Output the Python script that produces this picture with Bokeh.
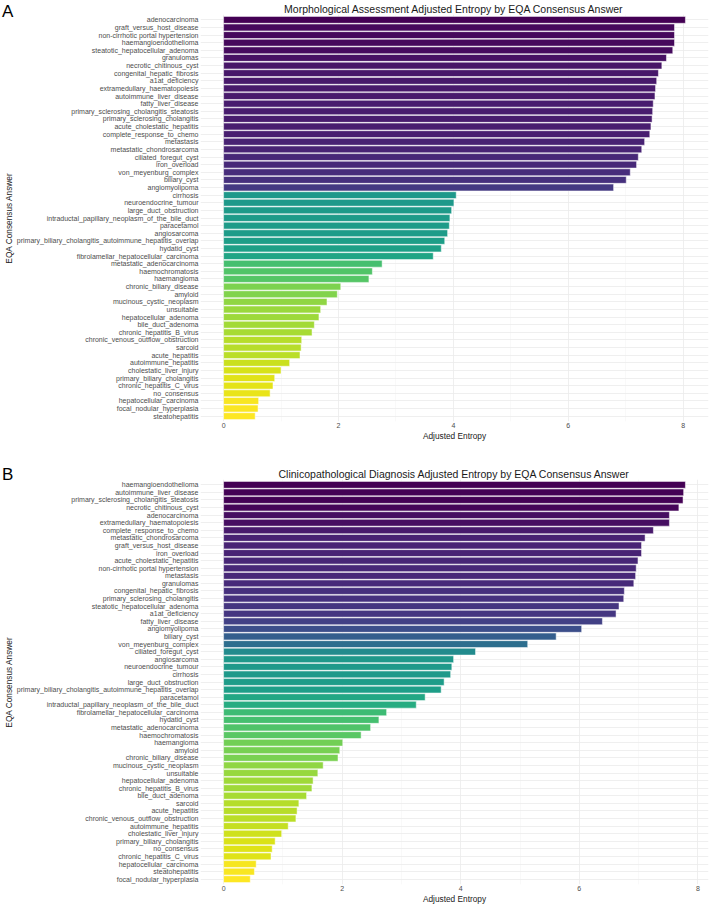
from bokeh.plotting import figure
from bokeh.models import (FactorRange, Range1d, FixedTicker, ColumnDataSource,
                          GridBox, Div)
from bokeh.transform import linear_cmap
from bokeh.palettes import Viridis256
from bokeh.embed import file_html
from bokeh.resources import INLINE

# ---------------- data ----------------
a_answers = [
    "adenocarcinoma", "graft_versus_host_disease", "non-cirrhotic portal hypertension",
    "haemangioendothelioma", "steatotic_hepatocellular_adenoma", "granulomas",
    "necrotic_chitinous_cyst", "congenital_hepatic_fibrosis", "a1at_deficiency",
    "extramedullary_haematopoiesis", "autoimmune_liver_disease", "fatty_liver_disease",
    "primary_sclerosing_cholangitis_steatosis", "primary_sclerosing_cholangitis",
    "acute_cholestatic_hepatitis", "complete_response_to_chemo", "metastasis",
    "metastatic_chondrosarcoma", "ciliated_foregut_cyst", "iron_overload",
    "von_meyenburg_complex", "biliary_cyst", "angiomyolipoma", "cirrhosis",
    "neuroendocrine_tumour", "large_duct_obstruction",
    "intraductal_papillary_neoplasm_of_the_bile_duct", "paracetamol", "angiosarcoma",
    "primary_biliary_cholangitis_autoimmune_hepatitis_overlap", "hydatid_cyst",
    "fibrolamellar_hepatocellular_carcinoma", "metastatic_adenocarcinoma",
    "haemochromatosis", "haemangioma", "chronic_biliary_disease", "amyloid",
    "mucinous_cystic_neoplasm", "unsuitable", "hepatocellular_adenoma",
    "bile_duct_adenoma", "chronic_hepatitis_B_virus", "chronic_venous_outflow_obstruction",
    "sarcoid", "acute_hepatitis", "autoimmune_hepatitis", "cholestatic_liver_injury",
    "primary_biliary_cholangitis", "chronic_hepatitis_C_virus", "no_consensus",
    "hepatocellular_carcinoma", "focal_nodular_hyperplasia", "steatohepatitis",
]
a_entropy = [
    8.04, 7.85, 7.85, 7.85, 7.82, 7.71, 7.63, 7.57, 7.54, 7.52, 7.51, 7.48, 7.47, 7.46,
    7.44, 7.42, 7.33, 7.28, 7.22, 7.19, 7.08, 7.01, 6.79, 4.05, 4.01, 3.97, 3.94, 3.93,
    3.90, 3.85, 3.79, 3.65, 2.76, 2.59, 2.53, 2.04, 1.98, 1.80, 1.69, 1.66, 1.58, 1.54,
    1.36, 1.35, 1.33, 1.15, 1.00, 0.89, 0.86, 0.81, 0.61, 0.60, 0.55,
]

b_answers = [
    "haemangioendothelioma", "autoimmune_liver_disease",
    "primary_sclerosing_cholangitis_steatosis", "necrotic_chitinous_cyst", "adenocarcinoma",
    "extramedullary_haematopoiesis", "complete_response_to_chemo", "metastatic_chondrosarcoma",
    "graft_versus_host_disease", "iron_overload", "acute_cholestatic_hepatitis",
    "non-cirrhotic portal hypertension", "metastasis", "granulomas",
    "congenital_hepatic_fibrosis", "primary_sclerosing_cholangitis",
    "steatotic_hepatocellular_adenoma", "a1at_deficiency", "fatty_liver_disease",
    "angiomyolipoma", "biliary_cyst", "von_meyenburg_complex", "ciliated_foregut_cyst",
    "angiosarcoma", "neuroendocrine_tumour", "cirrhosis", "large_duct_obstruction",
    "primary_biliary_cholangitis_autoimmune_hepatitis_overlap", "paracetamol",
    "intraductal_papillary_neoplasm_of_the_bile_duct", "fibrolamellar_hepatocellular_carcinoma",
    "hydatid_cyst", "metastatic_adenocarcinoma", "haemochromatosis", "haemangioma", "amyloid",
    "chronic_biliary_disease", "mucinous_cystic_neoplasm", "unsuitable",
    "hepatocellular_adenoma", "chronic_hepatitis_B_virus", "bile_duct_adenoma", "sarcoid",
    "acute_hepatitis", "chronic_venous_outflow_obstruction", "autoimmune_hepatitis",
    "cholestatic_liver_injury", "primary_biliary_cholangitis", "no_consensus",
    "chronic_hepatitis_C_virus", "hepatocellular_carcinoma", "steatohepatitis",
    "focal_nodular_hyperplasia",
]
b_entropy = [
    7.79, 7.76, 7.75, 7.68, 7.52, 7.52, 7.25, 7.11, 7.05, 7.05, 6.99, 6.96, 6.95, 6.92,
    6.76, 6.75, 6.67, 6.62, 6.39, 6.04, 5.61, 5.13, 4.25, 3.88, 3.85, 3.83, 3.72, 3.67,
    3.40, 3.25, 2.75, 2.62, 2.48, 2.32, 2.01, 1.96, 1.93, 1.68, 1.59, 1.51, 1.49, 1.40,
    1.27, 1.24, 1.22, 1.09, 0.98, 0.87, 0.82, 0.80, 0.55, 0.52, 0.45,
]

x_ticks = [0, 2, 4, 6, 8]
x_minor_ticks = [1, 3, 5, 7]

FONT = "Liberation Sans"
FRAME_LEFT = 199


def make_panel(answers, values, title, height, top_border, bottom_border):
    src = ColumnDataSource(dict(answer=answers, entropy=values))
    yr = FactorRange(factors=list(reversed(answers)), range_padding=0.2,
                     range_padding_units="absolute")
    vmax = max(values)
    xr = Range1d(-0.05 * vmax, 1.05 * vmax)
    p = figure(width=709, height=height, y_range=yr, x_range=xr,
               output_backend="svg", toolbar_location=None,
               min_border_left=FRAME_LEFT, min_border_right=1,
               min_border_top=top_border, min_border_bottom=bottom_border,
               title=title, align="start")
    p.hbar(y="answer", left=0, right="entropy", height=0.9, source=src,
           fill_color=linear_cmap("entropy", Viridis256[::-1], min(values), max(values)),
           line_color="white", line_width=0.5)

    p.outline_line_color = None
    p.background_fill_color = "white"
    p.border_fill_color = None   # transparent margins (page is white)

    p.title.text_font = FONT
    p.title.text_font_size = "10.5px"
    p.title.text_font_style = "normal"
    p.title.text_color = "#1a1a1a"
    p.title.align = "center"
    p.title.standoff = 0

    p.xaxis.ticker = FixedTicker(ticks=x_ticks, minor_ticks=x_minor_ticks)
    p.xaxis.axis_label = "Adjusted Entropy"
    p.yaxis.axis_label = "EQA Consensus Answer"
    for ax in (p.xaxis, p.yaxis):
        ax.axis_line_color = None
        ax.major_tick_line_color = None
        ax.minor_tick_line_color = None
        ax.major_tick_out = 0
        ax.major_tick_in = 0
        ax.minor_tick_out = 0
        ax.minor_tick_in = 0
        ax.major_label_text_font = FONT
        ax.major_label_text_font_size = "7px"
        ax.major_label_text_color = "#4d4d4d"
        ax.axis_label_text_font = FONT
        ax.axis_label_text_font_size = "8.3px"
        ax.axis_label_text_font_style = "normal"
        ax.axis_label_text_color = "#1a1a1a"
        ax.axis_label_standoff = 0
    p.yaxis.major_label_standoff = 2
    p.xaxis.major_label_standoff = 1

    p.xgrid.grid_line_color = "#ebebeb"
    p.xgrid.grid_line_width = 0.8
    p.xgrid.minor_grid_line_color = "#f2f2f2"
    p.xgrid.minor_grid_line_width = 0.5
    p.ygrid.grid_line_color = "#ebebeb"
    p.ygrid.grid_line_width = 0.8
    return p


def make_letter(letter, top):
    # panel letter as a small transparent HTML block overlaid on the panel's corner
    html = ("<span style='font-family:\"Liberation Sans\",Arial,sans-serif;"
            "font-size:17px;color:black;line-height:normal'>%s</span>" % letter)
    return Div(text=html, width=20, height=22, margin=(top, 0, 0, 2), align="start",
               styles={"font-size": "17px", "font-family": "Liberation Sans",
                       "color": "black"})


pa = make_panel(a_answers, a_entropy,
                "Morphological Assessment Adjusted Entropy by EQA Consensus Answer",
                453, 14, 32)
pb = make_panel(b_answers, b_entropy,
                "Clinicopathological Diagnosis Adjusted Entropy by EQA Consensus Answer",
                453, 26, 20)
la = make_letter("A", 0)
lb = make_letter("B", 10)

layout = GridBox(children=[(pa, 0, 0), (la, 0, 0), (pb, 1, 0), (lb, 1, 0)], spacing=0)
open("out.html", "w").write(file_html(layout, INLINE))
